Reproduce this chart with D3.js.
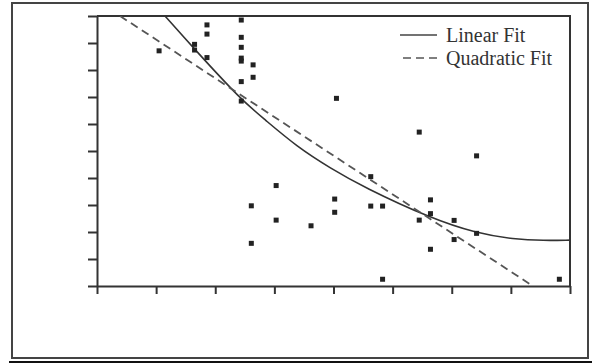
<!DOCTYPE html>
<html>
<head>
<meta charset="utf-8">
<script src="https://cdn.jsdelivr.net/npm/d3@7"></script>
<style>
	body { margin: 0; background: #fff; }
	svg { display: block; }
</style>
</head>
<body>
<div id="graph"></div>
<script>

// scatter points
var xPoints = [1.05, 1.65, 1.65, 1.86, 1.86, 1.86, 2.44, 2.44, 2.44, 2.44, 2.44, 2.44, 2.44,
	2.64, 2.64, 2.61, 2.61, 3.03, 3.03, 3.62, 4.05, 4.02, 4.02, 4.63, 4.63, 4.83, 4.83,
	5.45, 5.45, 5.64, 5.64, 5.64, 6.04, 6.04, 6.42, 6.42, 7.82];
var yPoints = [8.71, 8.95, 8.74, 9.67, 9.33, 8.46, 9.85, 9.21, 8.84, 8.44, 8.33, 7.57, 6.85,
	8.19, 7.73, 2.97, 1.58, 3.72, 2.44, 2.23, 6.95, 3.22, 2.73, 4.05, 2.96, 2.96, 0.25,
	5.70, 2.44, 3.19, 2.68, 1.36, 2.43, 1.72, 4.82, 1.95, 0.25];

// solid curve (legend: Linear Fit)
var solidFitX = [1.15, 1.65, 2.44, 2.82, 3.38, 3.95, 4.51, 5.64, 6.42, 7.05, 7.56, 8.0];
var solidFitY = [10.0, 8.77, 6.89, 6.20, 5.16, 4.36, 3.66, 2.51, 1.95, 1.73, 1.68, 1.70];

// dashed line (legend: Quadratic Fit)
var dashedFitX = [0.39, 7.37];
var dashedFitY = [10.0, 0.0];

var legendLabels = ["Linear Fit", "Quadratic Fit"];

var width = 592, height = 363;
var plot = { left: 97, right: 570, top: 16, bottom: 286 };

var svg = d3.select("#graph").append("svg")
	.attr("width", width)
	.attr("height", height);

// outer frame
svg.append("rect")
	.attr("x", 12).attr("y", 3)
	.attr("width", 576).attr("height", 355)
	.attr("fill", "none")
	.attr("stroke", "#444")
	.attr("stroke-width", 2);

svg.append("line")
	.attr("x1", 9).attr("x2", width)
	.attr("y1", 362).attr("y2", 362)
	.attr("stroke", "#111")
	.attr("stroke-width", 2);

var x = d3.scaleLinear().domain([0, 8]).range([plot.left, plot.right]);
var y = d3.scaleLinear().domain([0, 10]).range([plot.bottom, plot.top]);

svg.append("clipPath").attr("id", "clip")
	.append("rect")
	.attr("x", plot.left).attr("y", plot.top)
	.attr("width", plot.right - plot.left)
	.attr("height", plot.bottom - plot.top);

// axes, no labels
var yAxis = svg.append("g")
	.attr("transform", "translate(" + plot.left + ",0)")
	.call(d3.axisLeft(y).ticks(10).tickSize(9).tickSizeOuter(0).tickFormat(""));
var xAxis = svg.append("g")
	.attr("transform", "translate(0," + plot.bottom + ")")
	.call(d3.axisBottom(x).ticks(8).tickSize(8).tickSizeOuter(0).tickFormat(""));

svg.selectAll(".domain, .tick line")
	.attr("stroke", "#333")
	.attr("stroke-width", 2);

// top and right edges of the plot box
svg.append("polyline")
	.attr("points", [[plot.left, plot.top], [plot.right, plot.top], [plot.right, plot.bottom]].join(" "))
	.attr("fill", "none")
	.attr("stroke", "#333")
	.attr("stroke-width", 2);

var lineGen = d3.line()
	.x(function(d) { return x(d[0]); })
	.y(function(d) { return y(d[1]); });

var curves = svg.append("g").attr("clip-path", "url(#clip)");

curves.append("path")
	.datum(d3.zip(solidFitX, solidFitY))
	.attr("d", lineGen.curve(d3.curveBasis))
	.attr("fill", "none")
	.attr("stroke", "#333")
	.attr("stroke-width", 1.6);

curves.append("path")
	.datum(d3.zip(dashedFitX, dashedFitY))
	.attr("d", lineGen.curve(d3.curveLinear))
	.attr("fill", "none")
	.attr("stroke", "#555")
	.attr("stroke-width", 1.8)
	.attr("stroke-dasharray", "8,5");

// square markers
var ms = 5;
svg.append("g")
	.selectAll("rect")
	.data(d3.zip(xPoints, yPoints))
	.enter().append("rect")
	.attr("x", function(d) { return x(d[0]) - ms / 2; })
	.attr("y", function(d) { return y(d[1]) - ms / 2; })
	.attr("width", ms)
	.attr("height", ms)
	.attr("fill", "#222");

// legend
var legend = svg.append("g");
legendLabels.forEach(function(label, i) {
	var ly = 35 + i * 23;
	legend.append("line")
		.attr("x1", i === 0 ? 400 : 403).attr("x2", 437)
		.attr("y1", ly).attr("y2", ly)
		.attr("stroke", i === 0 ? "#444" : "#555")
		.attr("stroke-width", 1.6)
		.attr("stroke-dasharray", i === 0 ? null : "8,5");
	legend.append("text")
		.attr("x", 446)
		.attr("y", ly + 7)
		.attr("font-family", "'Liberation Serif', serif")
		.attr("font-size", "20px")
		.attr("fill", "#333")
		.text(label);
});

</script>
</body>
</html>
